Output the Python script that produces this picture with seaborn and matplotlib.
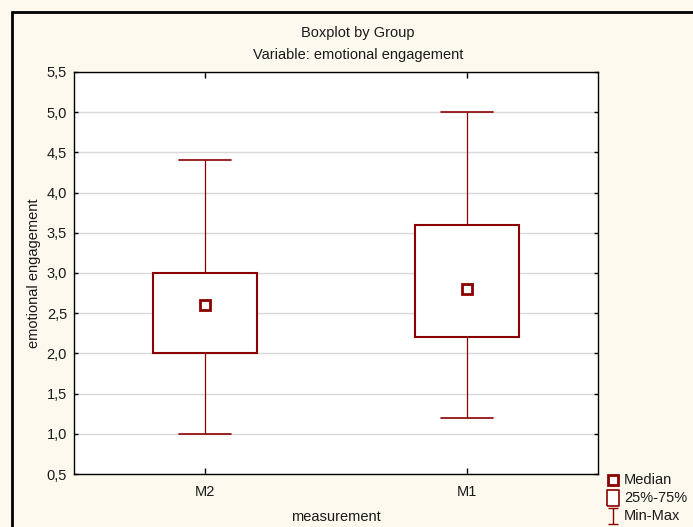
import numpy as np
import pandas as pd
import matplotlib
matplotlib.use("Agg")
import matplotlib.pyplot as plt
import seaborn as sns
from matplotlib.lines import Line2D
from matplotlib.path import Path
from matplotlib.patches import Rectangle
from matplotlib.ticker import FuncFormatter, MultipleLocator

# five-number values (min, q1, median, q3, max)
groups = ["M2", "M1"]
m2_values = [1.0, 2.0, 2.6, 3.0, 4.4]
m1_values = [1.2, 2.2, 2.8, 3.6, 5.0]
legend_labels = ["Median", "25%-75%", "Min-Max"]

df = pd.DataFrame({
    "measurement": ["M2"] * len(m2_values) + ["M1"] * len(m1_values),
    "emotional engagement": m2_values + m1_values,
})

dark_red = "#8B0000"
bg = "#FDF9EE"
txt = "#1a1a1a"
fs = 10.5

sns.set_theme(style="white")
plt.rcParams["font.family"] = ["Liberation Sans", "DejaVu Sans"]
plt.rcParams["font.size"] = fs

fig = plt.figure(figsize=(6.93, 5.27), dpi=100, facecolor=bg)
ax = fig.add_axes([74 / 693, 1 - 474 / 527, 524 / 693, 402 / 527])
ax.set_facecolor("white")

sns.boxplot(data=df, x="measurement", y="emotional engagement", order=groups,
            whis=(0, 100), width=0.4, color="white", linecolor=dark_red,
            linewidth=0.9, showfliers=False, medianprops={"visible": False},
            boxprops={"linewidth": 1.5}, capprops={"linewidth": 1.2}, ax=ax)
sns.pointplot(data=df, x="measurement", y="emotional engagement", order=groups,
              estimator="median", errorbar=None, markers="s", linestyles="none",
              color=dark_red, markerfacecolor="white", markersize=7.5,
              markeredgewidth=2, ax=ax)

ax.set_xlim(-0.5, 1.5)
ax.set_ylim(0.5, 5.5)
ax.yaxis.set_major_locator(MultipleLocator(0.5))
ax.yaxis.set_major_formatter(FuncFormatter(lambda v, p: f"{v:.1f}".replace(".", ",")))
ax.grid(axis="y", color="#D9D9D9", linewidth=1)
ax.set_axisbelow(True)
for s in ax.spines.values():
    s.set_visible(True)
    s.set_color("black")
    s.set_linewidth(1)
ax.tick_params(axis="y", left=True, right=True, direction="in", length=3,
               width=1, colors="black", labelcolor=txt, labelsize=fs, pad=5)
ax.tick_params(axis="x", bottom=True, top=True, direction="in", length=4, width=1,
               colors="black", labelcolor=txt, labelsize=fs, pad=8)
ax.set_xlabel("measurement", fontsize=fs, color=txt, labelpad=8)
ax.set_ylabel("emotional engagement", fontsize=fs, color=txt, labelpad=4)

fig.text(358 / 693, 1 - 33 / 527, "Boxplot by Group", ha="center", va="center",
         fontsize=fs, color=txt)
fig.text(358 / 693, 1 - 55 / 527, "Variable: emotional engagement", ha="center",
         va="center", fontsize=fs, color=txt)

# outer frame (cut by the image edges on right and bottom)
fig.patches.append(Rectangle((12 / 693, -0.2), 1.3, 1 - 12 / 527 + 0.2,
                             transform=fig.transFigure, fill=False,
                             edgecolor="black", linewidth=2))

# legend keys drawn in figure pixels
box_marker = Path([(-0.7, -1), (0.7, -1), (0.7, 1), (-0.7, 1), (-0.7, -1)])
ibeam = Path([(-0.6, 1), (0.6, 1), (0, 1), (0, -1), (-0.6, -1), (0.6, -1)],
             [Path.MOVETO, Path.LINETO, Path.MOVETO, Path.LINETO, Path.MOVETO, Path.LINETO])
key_styles = [
    dict(marker="s", ms=7.5, mfc="white", mec=dark_red, mew=2),
    dict(marker=box_marker, ms=12, mfc="white", mec=dark_red, mew=1.2),
    dict(marker=ibeam, ms=12, mfc="none", mec=dark_red, mew=1.0),
]
rows_y = [480, 498, 516]
for lab, st, yy in zip(legend_labels, key_styles, rows_y):
    fig.add_artist(Line2D([613 / 693], [1 - yy / 527], transform=fig.transFigure,
                          ls="none", **st))
    fig.text(624 / 693, 1 - yy / 527, lab, ha="left", va="center",
             fontsize=fs, color=txt)

fig.savefig("out.png", dpi=100, facecolor=bg)
